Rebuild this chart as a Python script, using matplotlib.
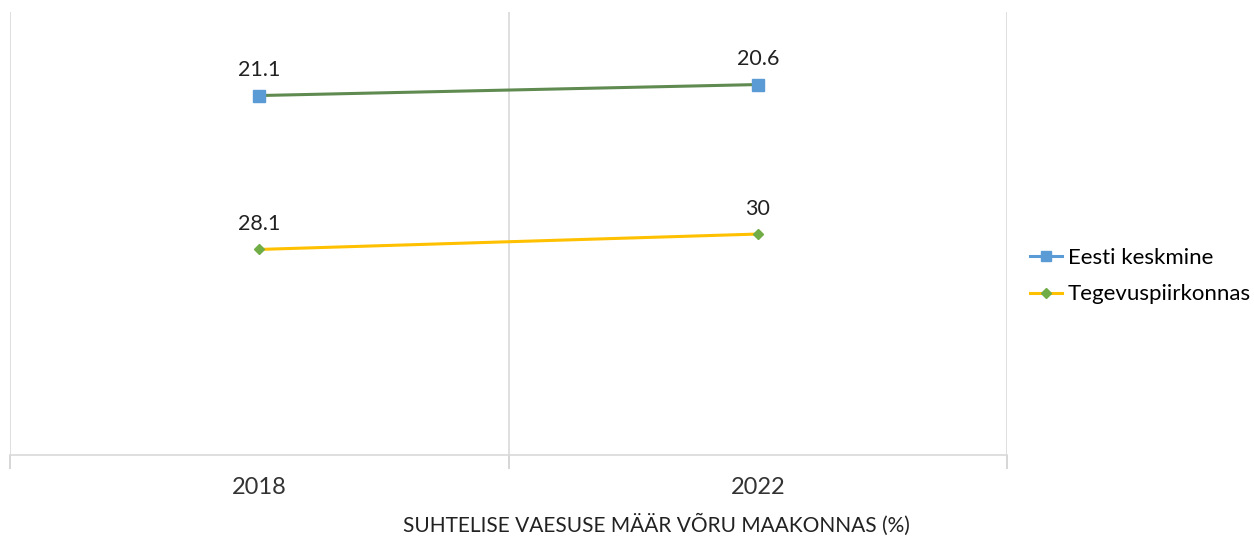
import matplotlib.pyplot as plt
from matplotlib.lines import Line2D

plt.rcParams['font.family'] = ['Lato', 'DejaVu Sans']

years = ["2018", "2022"]
# positions of the lines as drawn on the (hidden, inverted) value axis
eesti = [21.1, 20.6]
tegevus = [28.1, 27.4]
# data labels as printed on the chart
eesti_labels = ["21.1", "20.6"]
tegevus_labels = ["28.1", "30"]
xlabel = "SUHTELISE VAESUSE MÄÄR VÕRU MAAKONNAS (%)"

blue = "#5b9bd5"
green_line = "#5f8a50"
orange = "#ffc000"
green = "#70ad47"

fig = plt.figure(figsize=(12.54, 5.4), dpi=100)
ax = fig.add_axes([10 / 1254, 85 / 540, 997 / 1254, 443 / 540])

x = range(len(years))
ax.plot(x, eesti, color=green_line, lw=2.2, zorder=3)
ax.plot(x, eesti, ls="none", marker="s", ms=8, color=blue, zorder=4)
ax.plot(x, tegevus, color=orange, lw=2.2, zorder=3)
ax.plot(x, tegevus, ls="none", marker="D", ms=5.5, color=green, zorder=4)

for xi, v, t in zip(x, eesti, eesti_labels):
    ax.annotate(t, (xi, v), xytext=(0, 11), textcoords="offset points",
                ha="center", va="bottom", fontsize=15.5, color="#222222")
for xi, v, t in zip(x, tegevus, tegevus_labels):
    ax.annotate(t, (xi, v), xytext=(0, 11), textcoords="offset points",
                ha="center", va="bottom", fontsize=15.5, color="#222222")

ax.set_xlim(-0.5, 1.5)
ax.set_ylim(37.45, 17.3)
ax.set_yticks([])
ax.set_xticks(list(x))
ax.set_xticklabels(years, fontsize=17, color="#333333")
ax.set_xticks([-0.5, 0.5, 1.5], minor=True)
ax.tick_params(axis="x", which="major", length=0, pad=16)
ax.tick_params(axis="x", which="minor", length=10, color="#d0d0d0", width=1.2)
ax.grid(True, axis="x", which="minor", color="#d9d9d9", lw=1.2)
for s in ["top", "right", "left"]:
    ax.spines[s].set_visible(False)
ax.spines["bottom"].set_color("#d9d9d9")
ax.spines["bottom"].set_linewidth(1.2)
fig.text(656 / 1254, 1 - 525 / 540, xlabel, fontsize=15, color="#222222",
         ha="center", va="center")

handles = [
    Line2D([], [], color=blue, lw=2.2, marker="s", ms=7, mfc=blue, mec=blue),
    Line2D([], [], color=orange, lw=2.2, marker="D", ms=5, mfc=green, mec=green),
]
fig.legend(handles, ["Eesti keskmine", "Tegevuspiirkonnas"], loc="center left",
           bbox_to_anchor=(1030 / 1254, 1 - 276 / 540), frameon=False,
           fontsize=16, handlelength=1.45, handletextpad=0.25, labelspacing=0.75,
           borderaxespad=0, borderpad=0)

fig.savefig("out.png", dpi=100)
